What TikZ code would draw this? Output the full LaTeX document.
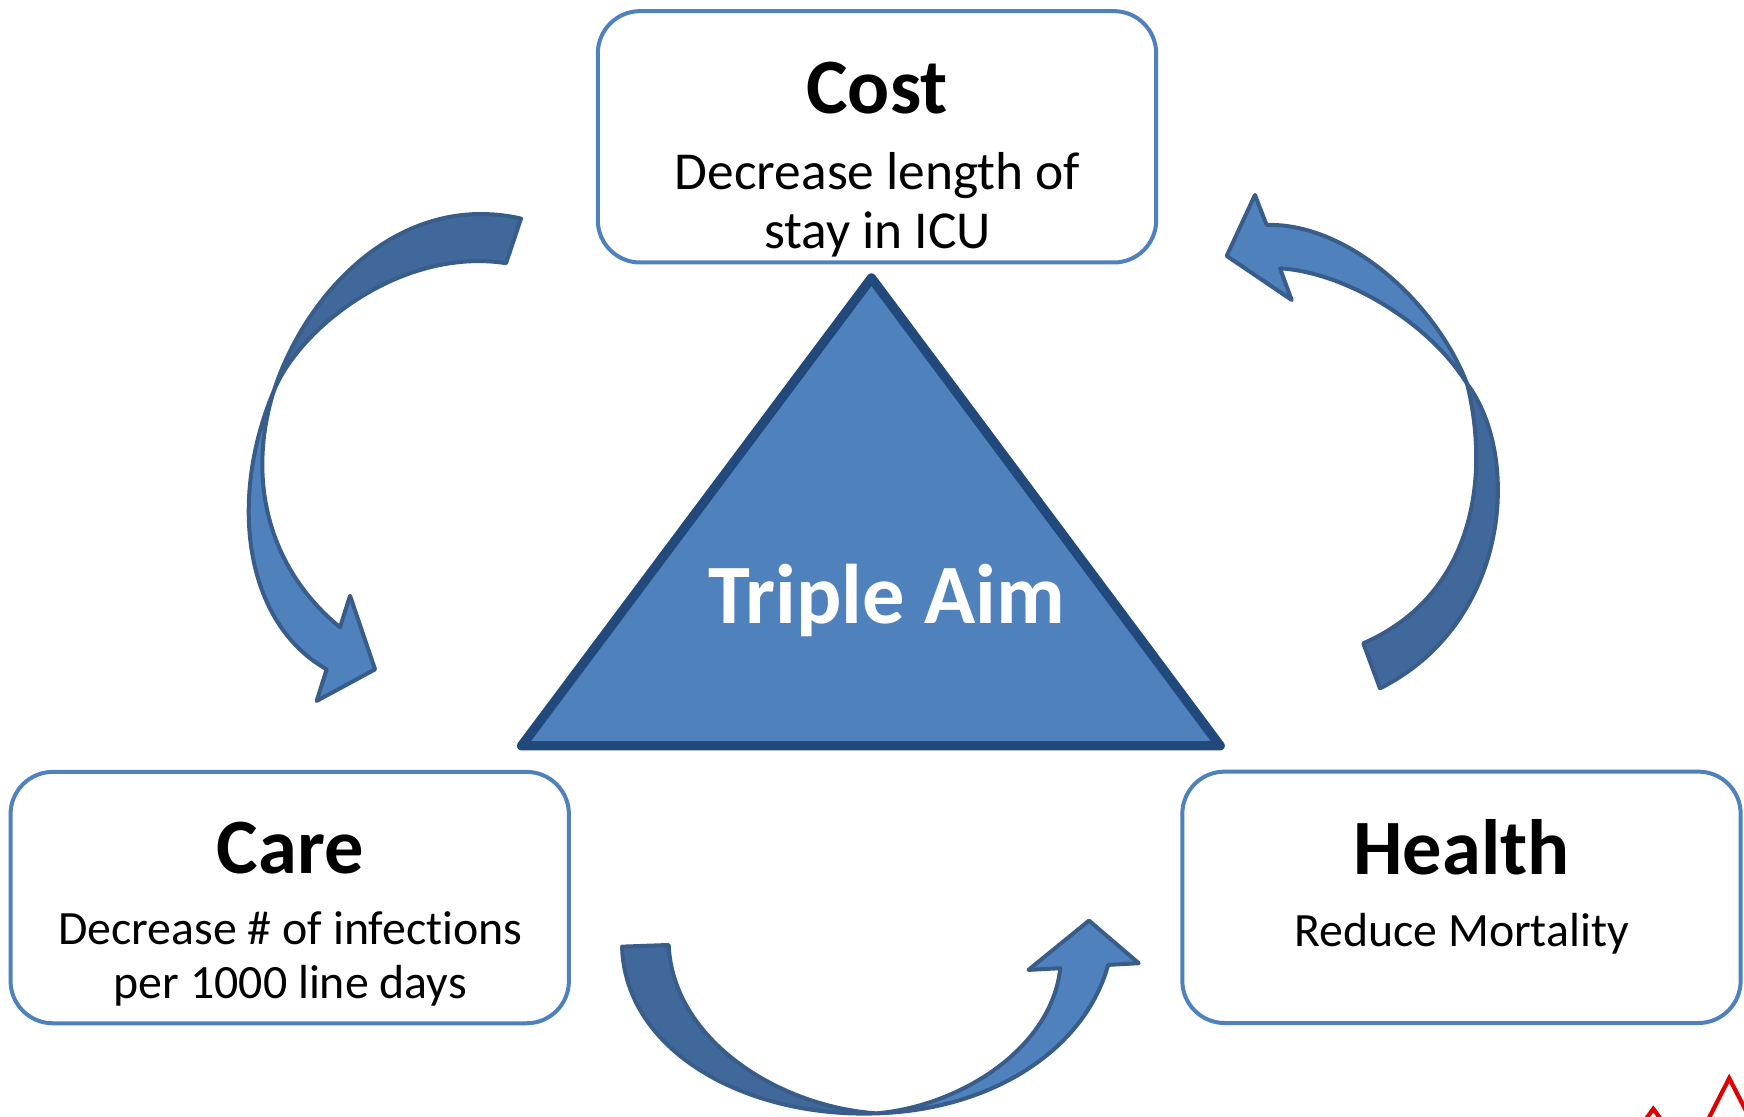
\documentclass[tikz,border=0pt]{standalone}
\usepackage{fontspec}
\setmainfont{Carlito}[Ligatures=CommonOff]
\definecolor{boxblue}{HTML}{4F81BD}
\definecolor{tridark}{HTML}{21497C}
\definecolor{arrline}{HTML}{385D8A}
\definecolor{arrdarkfill}{HTML}{41689A}
\definecolor{arrlightfill}{HTML}{4F81BD}
\definecolor{ecgred}{HTML}{E00000}
\begin{document}
\begin{tikzpicture}[x=1pt,y=-1pt,
  box/.style={draw=boxblue, line width=3.6pt, rounded corners=38pt, fill=white,
    minimum width=502pt, minimum height=226pt, inner sep=0pt},
  headtxt/.style={font=\fontsize{70.5}{84}\selectfont\bfseries, anchor=base, inner sep=0pt},
  bodybig/.style={font=\fontsize{48}{56}\selectfont, anchor=base, inner sep=0pt},
  bodysmall/.style={font=\fontsize{43}{51}\selectfont, anchor=base, inner sep=0pt},
  aimtxt/.style={font=\fontsize{76}{90}\selectfont\bfseries, text=white, anchor=base, inner sep=0pt},
  tri/.style={draw=tridark, fill=boxblue, line width=8.5pt, line join=round},
  arrdark/.style={draw=arrline, fill=arrdarkfill, line width=3.6pt, line join=round},
  arrlight/.style={draw=arrline, fill=arrlightfill, line width=3.6pt, line join=round},
  ecg/.style={draw=ecgred, line width=3.8pt, line join=miter}
]
\useasboundingbox (0,0) rectangle (1568,1004);
\fill[white] (0,0) rectangle (1568,1004);

% boxes
\node[box] (costbox) at (788.5,123) {};
\node[box] (carebox) at (260.5,807) {};
\node[box] (healthbox) at (1314,806.75) {};

% box texts
\node[headtxt] (costtitle) at (788.5,102) {Cost};
\node[bodybig] (costa) at (789,170.5) {Decrease length of};
\node[bodybig] (costb) at (789,223.5) {stay in ICU};

\node[headtxt] (caretitle) at (261,785) {Care};
\node[bodysmall] (carea) at (261,849.5) {Decrease \# of infections};
\node[bodysmall] (careb) at (261,897.5) {per 1000 line days};

\node[headtxt] (healthtitle) at (1314,786.5) {Health};
\node[bodysmall] (healtha) at (1314,851) {Reduce Mortality};

% triangle
\draw[tri] (783.5,250) -- (469,670.5) -- (1097,670.5) -- cycle;
\node[aimtxt] (aim) at (797,561) {Triple Aim};

% left arrow (Cost -> Care)
\filldraw[arrdark] (468.4,196.5) .. controls (360,172) and (275,262) .. (246,352)
  .. controls (268,296) and (360,222) .. (455,236.6) -- cycle;
\filldraw[arrlight] (246,352) .. controls (205,450) and (220,560) .. (293.7,601.8)
  -- (284.7,630.2) -- (337.2,601.8) -- (314.7,535.6) -- (305.7,564)
  .. controls (240,510) and (222,430) .. (246,352) -- cycle;

% right arrow (Health -> Cost)
\filldraw[arrdark] (1240.7,618.9) .. controls (1358,560) and (1368,410) .. (1319,345)
  .. controls (1340,430) and (1325,535) .. (1225.7,578.4) -- cycle;
\filldraw[arrlight] (1319,345) .. controls (1290,270) and (1210,200) .. (1138.8,202.3)
  -- (1128.3,175.3) -- (1102.9,230.1) -- (1161.3,269.7) -- (1150.8,241.2)
  .. controls (1210,245) and (1285,290) .. (1319,345) -- cycle;

% bottom arrow (Care -> Health)
\filldraw[arrdark] (559.3,851.1) .. controls (562,945) and (670,1005) .. (788,1001)
  .. controls (700,995) and (605,935) .. (601.2,849.6) -- cycle;
\filldraw[arrlight] (788,1001) .. controls (890,998) and (975,945) .. (996.3,867.5)
  -- (1023.8,866) -- (979.1,827.7) -- (924.7,872) -- (953.3,870.5)
  .. controls (945,945) and (860,995) .. (788,1001) -- cycle;

% red line fragment at bottom right
\begin{scope}
\clip (0,0) rectangle (1568,1004);
\draw[ecg] (1477,1010) -- (1486.4,997) -- (1496,1010);
\draw[ecg] (1534,1010) -- (1554.7,969.4) -- (1572,1003);
\end{scope}
\end{tikzpicture}
\end{document}
